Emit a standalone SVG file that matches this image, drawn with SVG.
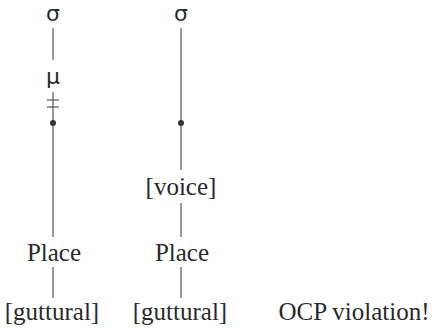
<svg xmlns="http://www.w3.org/2000/svg" width="432" height="331" viewBox="0 0 432 331">
<style>
.t{font-family:"Liberation Serif","Times New Roman",serif;font-size:25px;fill:#2a2a2a;text-anchor:middle}
.g{font-family:"DejaVu Sans","Liberation Sans",sans-serif;font-size:22px;fill:#2a2a2a;text-anchor:middle}
.c line{stroke:#555;stroke-width:1.2}
.d{fill:#333}
</style>
<g class="c" id="connectors">
<line x1="53" y1="28" x2="53" y2="60"/>
<line x1="53" y1="92" x2="53" y2="123"/>
<line x1="47" y1="100" x2="59" y2="100"/>
<line x1="47" y1="107" x2="59" y2="107"/>
<line x1="53" y1="123" x2="53" y2="237"/>
<line x1="53" y1="267" x2="53" y2="298"/>
<line x1="181" y1="28" x2="181" y2="123"/>
<line x1="181" y1="123" x2="181" y2="170"/>
<line x1="181" y1="203" x2="181" y2="237"/>
<line x1="181" y1="267" x2="181" y2="298"/>
</g>
<g id="sigma1"><text class="g" x="53" y="21">σ</text></g>
<g id="mu1"><text class="g" x="53" y="84">μ</text></g>
<g id="root1"><circle class="d" cx="53" cy="123" r="3"/></g>
<g id="place1"><text class="t" x="54" y="261">Place</text></g>
<g id="gutt1"><text class="t" x="52" y="320">[guttural]</text></g>
<g id="sigma2"><text class="g" x="181" y="21">σ</text></g>
<g id="root2"><circle class="d" cx="181" cy="123" r="3"/></g>
<g id="voice2"><text class="t" x="181" y="195">[voice]</text></g>
<g id="place2"><text class="t" x="182" y="261">Place</text></g>
<g id="gutt2"><text class="t" x="180" y="320">[guttural]</text></g>
<g id="ocp"><text class="t" x="354" y="320">OCP violation!</text></g>
</svg>
